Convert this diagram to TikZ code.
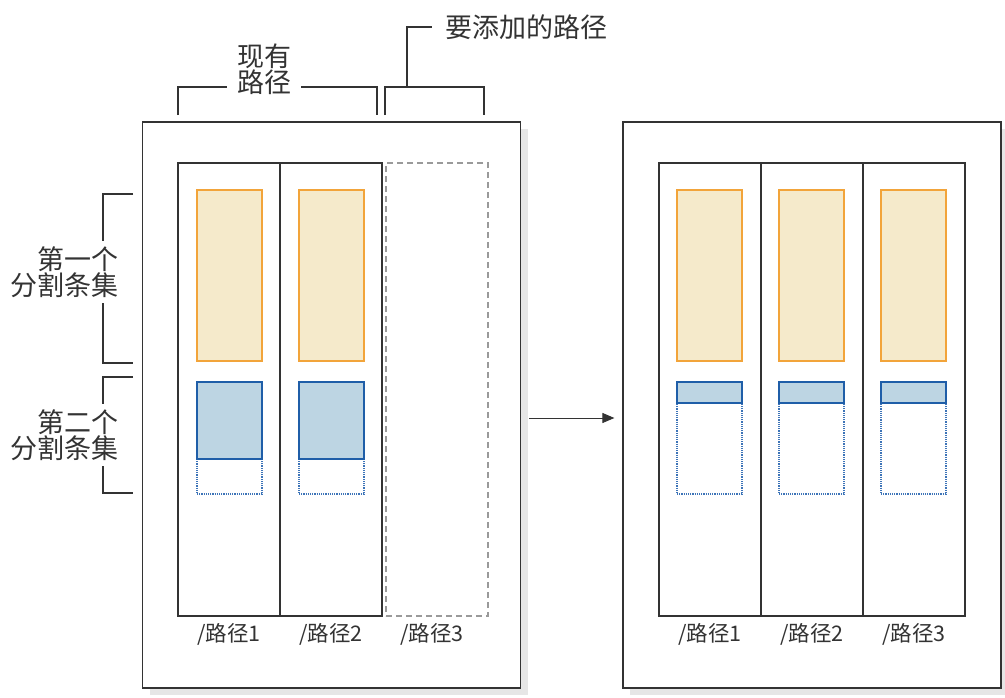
\documentclass[tikz,border=0pt]{standalone}
\usepackage{fontspec}
\newfontfamily\cjk{Noto Sans CJK SC}
\usetikzlibrary{positioning, shadows, arrows.meta}

\definecolor{linegray}{HTML}{333333}
\definecolor{shadowgray}{HTML}{E6E6E6}
\definecolor{dashgray}{HTML}{9A9A9A}
\definecolor{segline}{HTML}{F2A43A}
\definecolor{segfill}{HTML}{F5EACB}
\definecolor{blueline}{HTML}{1F5EA8}
\definecolor{bluefill}{HTML}{BDD5E3}
\definecolor{dotblue}{HTML}{3D74B8}

\begin{document}
\begin{tikzpicture}[
                x = 1pt, y = -1pt, % pixel grid, y runs downwards
                > = {Triangle[length = 12pt, width = 10pt]}, % arrow head style
                node distance = 102pt, % pitch of the path columns
                line width = 1.2pt % line style
            ]

            \tikzstyle{panel}=[draw = linegray, fill = white, rectangle,
            inner sep = 0pt, minimum width = 378pt, minimum height = 566pt,
            drop shadow = {shadow xshift = 7pt, shadow yshift = -7pt,
            fill = shadowgray, opacity = 1}]
            \tikzstyle{pathcol}=[draw = linegray, rectangle, inner sep = 0pt,
            minimum width = 102pt, minimum height = 453pt]
            \tikzstyle{newcol}=[pathcol, draw = dashgray, dash pattern = on 6pt off 4pt]
            \tikzstyle{firstset}=[draw = segline, fill = segfill, rectangle,
            inner sep = 0pt, minimum width = 65pt, minimum height = 171pt]
            \tikzstyle{secondset}=[draw = blueline, fill = bluefill, rectangle,
            inner sep = 0pt, minimum width = 65pt]
            \tikzstyle{spare}=[draw = dotblue, densely dotted, rectangle,
            inner sep = 0pt, minimum width = 65pt, minimum height = 112pt]
            \tikzstyle{plabel}=[font = \cjk\fontsize{21.5pt}{24pt}\selectfont,
            text = linegray, inner sep = 2pt]
            \tikzstyle{biglabel}=[font = \cjk\fontsize{27pt}{26pt}\selectfont,
            text = linegray, fill = white]
            \tikzstyle{bracket}=[draw = linegray, line width = 1.1pt]

            \useasboundingbox (0,0) rectangle (1005,697);

            % left panel: two existing paths, one to be added
            \node (lbox) [panel] at (331.5,405) {};
            \node (lcol1) [pathcol] at (229,389.5) {}; \node (lcol2) [pathcol,
            right of=lcol1] {}; \node (lcol3) [newcol, right of=lcol2,
            xshift=4pt] {};
            \node (lseg1) [firstset] at (229.5,275.5) {}; \node (lseg2)
            [firstset, right of=lseg1] {};
            \node (lspare1) [spare] at (229.5,438) {}; \node (lspare2) [spare,
            right of=lspare1] {};
            \node (lblue1) [secondset, minimum height = 77pt] at (229.5,420.5)
            {}; \node (lblue2) [secondset, minimum height = 77pt, right
            of=lblue1] {};
            \node (lname1) [plabel, below=4pt of lcol1] {/路径1}; \node (lname2)
            [plabel, below=4pt of lcol2] {/路径2}; \node (lname3) [plabel,
            below=4pt of lcol3, xshift=-5pt] {/路径3};

            % right panel: three paths
            \node (rbox) [panel] at (812,405) {};
            \node (rcol1) [pathcol] at (710,389.5) {}; \node (rcol2) [pathcol,
            right of=rcol1] {}; \node (rcol3) [pathcol, right of=rcol2] {};
            \node (rseg1) [firstset] at (709.5,275.5) {}; \node (rseg2)
            [firstset, right of=rseg1] {}; \node (rseg3) [firstset, right
            of=rseg2] {};
            \node (rspare1) [spare] at (709.5,438) {}; \node (rspare2) [spare,
            right of=rspare1] {}; \node (rspare3) [spare, right of=rspare2] {};
            \node (rblue1) [secondset, minimum height = 21pt] at (709.5,392.5)
            {}; \node (rblue2) [secondset, minimum height = 21pt, right
            of=rblue1] {}; \node (rblue3) [secondset, minimum height = 21pt,
            right of=rblue2] {};
            \node (rname1) [plabel, below=4pt of rcol1] {/路径1}; \node (rname2)
            [plabel, below=4pt of rcol2] {/路径2}; \node (rname3) [plabel,
            below=4pt of rcol3] {/路径3};

            \draw[->, linegray, line width = 1pt, shorten <= 8pt, shorten >= 8pt]
            ([yshift=-13pt]lbox.east) -- ([yshift=-13pt]rbox.west);

            % brackets above the columns
            \coordinate (exL) at (178,115); \coordinate (exR) at (377,115);
            \coordinate (addL) at (385,115); \coordinate (addR) at (484,115);
            \coordinate (addstem) at (407,87);
            \draw[bracket] (exL) -- ++(0,-28) -| (exR);
            \draw[bracket] (addL) -- ++(0,-28) -| (addR);
            \node (exlbl) [biglabel, align = center, inner xsep = 10pt,
            inner ysep = 0pt] at (264,69) {现有\\路径};
            \node (addlbl) [biglabel, anchor = west, inner xsep = 13pt]
            at (432,27) {要添加的路径};
            \draw[bracket] (addstem) |- (addlbl.west);

            % brackets beside the split sets
            \coordinate (s1top) at (133,194); \coordinate (s1bot) at (133,363);
            \coordinate (s2top) at (133,377); \coordinate (s2bot) at (133,493);
            \draw[bracket] (s1top) -- ++(-30,0) |- (s1bot);
            \draw[bracket] (s2top) -- ++(-30,0) |- (s2bot);
            \node (set1lbl) [biglabel, align = right, anchor = east,
            inner xsep = 0pt, inner ysep = 5pt] at (119,272) {第一个\\分割条集};
            \node (set2lbl) [biglabel, align = right, anchor = east,
            inner xsep = 0pt, inner ysep = 5pt] at (119,435) {第二个\\分割条集};

        \end{tikzpicture}
\end{document}
